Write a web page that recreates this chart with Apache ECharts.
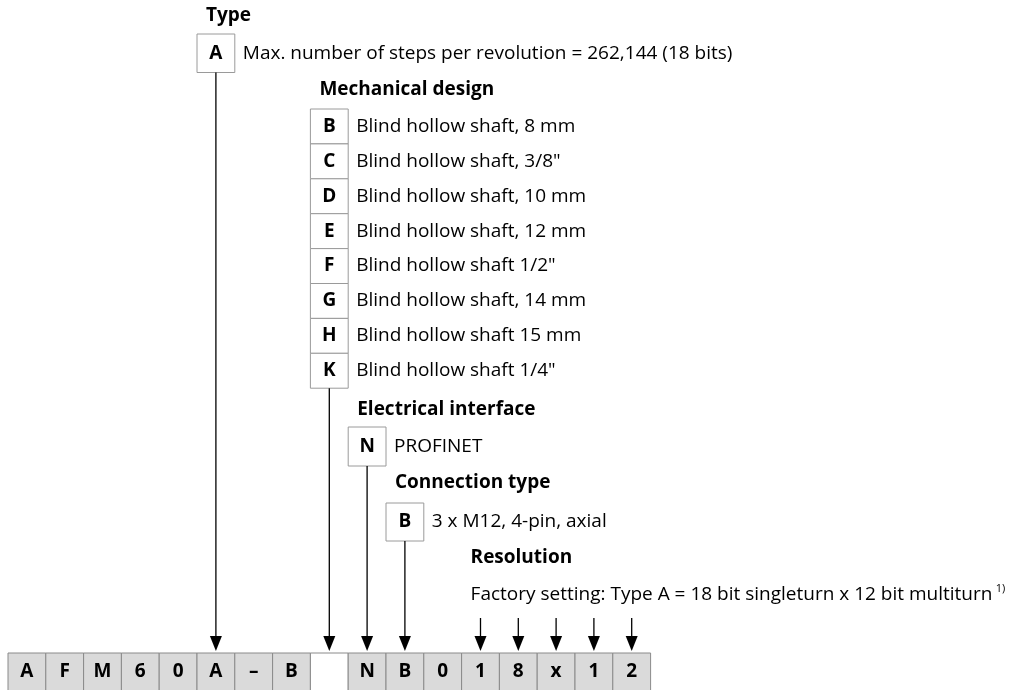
<!DOCTYPE html>
<html>
<head>
<meta charset="utf-8">
<script src="https://cdn.jsdelivr.net/npm/echarts@6/dist/echarts.min.js"></script>
<style>
html,body{margin:0;padding:0;background:#fff}
#main{width:1018px;height:690px}
</style>
</head>
<body>
<div id="main"></div>
<script>
// type code row
var codeCells = ['A', 'F', 'M', '6', '0', 'A', '–', 'B', '', 'N', 'B', '0', '1', '8', 'x', '1', '2'];

// option groups
var groupTitles = ['Type', 'Mechanical design', 'Electrical interface', 'Connection type', 'Resolution'];
var typeCodes = ['A'];
var typeTexts = ['Max. number of steps per revolution = 262,144 (18 bits)'];
var mechCodes = ['B', 'C', 'D', 'E', 'F', 'G', 'H', 'K'];
var mechTexts = ['Blind hollow shaft, 8 mm', 'Blind hollow shaft, 3/8"', 'Blind hollow shaft, 10 mm',
    'Blind hollow shaft, 12 mm', 'Blind hollow shaft 1/2"', 'Blind hollow shaft, 14 mm',
    'Blind hollow shaft 15 mm', 'Blind hollow shaft 1/4"'];
var elecCodes = ['N'];
var elecTexts = ['PROFINET'];
var connCodes = ['B'];
var connTexts = ['3 x M12, 4-pin, axial'];
var resText = 'Factory setting: Type A = 18 bit singleturn x 12 bit multiturn';
var resNote = '1)';

// which cell of the code each group fills
var groupCells = [5, 8, 9, 10, 12];
var resCells = [12, 13, 14, 15, 16];

var groupCodes = [typeCodes, mechCodes, elecCodes, connCodes];
var groupTexts = [typeTexts, mechTexts, elecTexts, connTexts];

// layout (y in px, y axis is 0..690 inverted)
var layout = [
    {title: 16, top: 34, row: 38.5},
    {title: 90, top: 109, row: 34.9},
    {title: 410, top: 427, row: 39},
    {title: 483, top: 503, row: 38},
    {title: 558, top: 576, row: 38}
];
var codeTop = 653, codeBottom = 692, arrowTip = 651, resArrowTop = 618;
var FONT = '"Open Sans", "Noto Sans", sans-serif';
var TEXT_FONT = '19px ' + FONT;
var BOLD_FONT = 'bold 19px ' + FONT;

var chart = echarts.init(document.getElementById('main'));

function arrow(x, y1, y2) {
    return [
        {type: 'line', shape: {x1: x, y1: y1, x2: x, y2: y2 - 10}, style: {stroke: '#000', lineWidth: 1.3}},
        {type: 'polygon', shape: {points: [[x - 6, y2 - 15], [x + 6, y2 - 15], [x, y2]]}, style: {fill: '#000'}}
    ];
}

var optionItems = [];
groupCodes.forEach(function (codes, g) {
    codes.forEach(function (c, k) {
        optionItems.push([groupCells[g], g, k]);
    });
});

option = {
    animation: false,
    grid: {left: 8, top: 0, width: 642.6, height: 690},
    xAxis: {type: 'value', min: 0, max: 17, show: false},
    yAxis: {type: 'value', min: 0, max: 690, inverse: true, show: false},
    series: [
        {
            // code row
            type: 'custom',
            data: codeCells.map(function (c, i) { return [i]; }),
            renderItem: function (params, api) {
                var i = api.value(0);
                var p0 = api.coord([i, codeTop]);
                var p1 = api.coord([i + 1, codeBottom]);
                var c = codeCells[params.dataIndex];
                return {
                    type: 'group',
                    children: [
                        {type: 'rect', shape: {x: p0[0], y: p0[1], width: p1[0] - p0[0], height: p1[1] - p0[1]},
                            style: {fill: c === '' ? '#fff' : '#dadada', stroke: '#8a8a8a', lineWidth: 1}},
                        {type: 'text', x: (p0[0] + p1[0]) / 2, y: (p0[1] + p1[1]) / 2 - 1,
                            style: {text: c, fill: '#000', font: BOLD_FONT, align: 'center', verticalAlign: 'middle'}}
                    ]
                };
            }
        },
        {
            // option boxes with descriptions
            type: 'custom',
            data: optionItems,
            renderItem: function (params, api) {
                var cell = api.value(0), g = api.value(1), k = api.value(2);
                var L = layout[g];
                var p0 = api.coord([cell, L.top + k * L.row]);
                var p1 = api.coord([cell + 1, L.top + (k + 1) * L.row]);
                return {
                    type: 'group',
                    children: [
                        {type: 'rect', shape: {x: p0[0], y: p0[1], width: p1[0] - p0[0], height: p1[1] - p0[1]},
                            style: {fill: '#fff', stroke: '#9a9a9a', lineWidth: 1}},
                        {type: 'text', x: (p0[0] + p1[0]) / 2, y: (p0[1] + p1[1]) / 2,
                            style: {text: groupCodes[g][k], fill: '#000', font: BOLD_FONT, align: 'center', verticalAlign: 'middle'}},
                        {type: 'text', x: p1[0] + 8, y: (p0[1] + p1[1]) / 2,
                            style: {text: groupTexts[g][k], fill: '#000', font: TEXT_FONT, align: 'left', verticalAlign: 'middle'}}
                    ]
                };
            }
        },
        {
            // group titles
            type: 'custom',
            data: groupTitles.map(function (t, g) { return [groupCells[g], g]; }),
            renderItem: function (params, api) {
                var g = api.value(1);
                var p = api.coord([api.value(0), layout[g].title]);
                return {type: 'text', x: p[0] + 9, y: p[1],
                    style: {text: groupTitles[g], fill: '#000', font: BOLD_FONT, align: 'left', verticalAlign: 'middle'}};
            }
        },
        {
            // resolution text
            type: 'custom',
            data: [[groupCells[4], 4]],
            renderItem: function (params, api) {
                var L = layout[4];
                var p = api.coord([api.value(0), L.top + L.row / 2]);
                return {type: 'text', x: p[0] + 9, y: p[1],
                    style: {text: '{a|' + resText + '} {s|' + resNote + '}', align: 'left', verticalAlign: 'middle',
                        rich: {a: {font: TEXT_FONT, fill: '#000'}, s: {font: '11px ' + FONT, fill: '#000', padding: [0, 0, 12, 0]}}}};
            }
        },
        {
            // connectors from option boxes down to code cells
            type: 'custom',
            data: groupCodes.map(function (codes, g) { return [groupCells[g], g]; }),
            renderItem: function (params, api) {
                var cell = api.value(0), g = api.value(1);
                var L = layout[g];
                var p = api.coord([cell + 0.5, L.top + groupCodes[g].length * L.row]);
                var tip = api.coord([cell + 0.5, arrowTip]);
                return {type: 'group', children: arrow(p[0], p[1], tip[1])};
            }
        },
        {
            // resolution arrows
            type: 'custom',
            data: resCells.map(function (c) { return [c]; }),
            renderItem: function (params, api) {
                var p = api.coord([api.value(0) + 0.5, resArrowTop]);
                var tip = api.coord([api.value(0) + 0.5, arrowTip]);
                return {type: 'group', children: arrow(p[0], p[1], tip[1])};
            }
        }
    ]
};
chart.setOption(option);
</script>
</body>
</html>
